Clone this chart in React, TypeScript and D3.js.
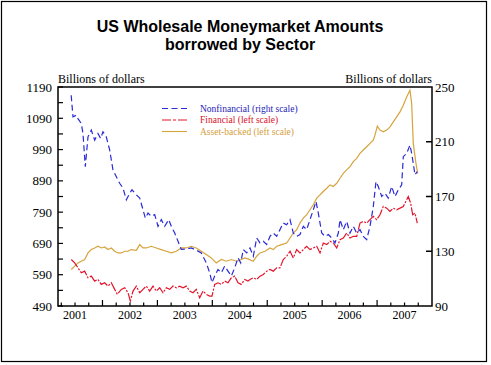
import React from 'react';
import * as d3 from 'd3';

// ---- Data ----
// Nonfinancial (right scale), billions of dollars
const nonfinancialDates = [
  2001.43, 2001.463, 2001.523, 2001.554, 2001.614, 2001.645, 2001.687, 2001.736, 2001.796, 2001.858,
  2001.918, 2001.967, 2002.009, 2002.069, 2002.131, 2002.191, 2002.252, 2002.313, 2002.374, 2002.434,
  2002.496, 2002.537, 2002.616, 2002.678, 2002.738, 2002.78, 2002.829, 2002.889, 2002.951, 2003.011,
  2003.071, 2003.133, 2003.206, 2003.253, 2003.315, 2003.375, 2003.435, 2003.526, 2003.617, 2003.708,
  2003.799, 2003.89, 2003.952, 2003.994, 2004.043, 2004.103, 2004.163, 2004.225, 2004.285, 2004.346,
  2004.407, 2004.468, 2004.517, 2004.564, 2004.626, 2004.686, 2004.746, 2004.808, 2004.868, 2004.928,
  2004.99, 2005.05, 2005.11, 2005.172, 2005.232, 2005.292, 2005.354, 2005.415, 2005.474, 2005.536,
  2005.596, 2005.657, 2005.718, 2005.778, 2005.839, 2005.888, 2005.93, 2005.992, 2006.052, 2006.112,
  2006.174, 2006.234, 2006.294, 2006.325, 2006.385, 2006.447, 2006.507, 2006.567, 2006.629, 2006.689,
  2006.749, 2006.811, 2006.871, 2006.931, 2006.98, 2007.022, 2007.084, 2007.144, 2007.204, 2007.266,
  2007.326, 2007.386, 2007.448, 2007.477, 2007.539, 2007.599, 2007.63, 2007.659, 2007.69, 2007.732,
];
const nonfinancialValues = [
  244.0, 228.2, 229.4, 226.9, 223.3, 216.0, 191.8, 213.6, 218.5, 211.2,
  216.0, 212.4, 217.3, 213.6, 204.0, 189.4, 184.5, 179.7, 176.1, 167.6,
  172.4, 174.9, 171.3, 168.8, 160.3, 154.2, 157.9, 155.5, 156.7, 148.2,
  153.1, 148.2, 153.1, 148.2, 143.3, 137.3, 131.3, 131.7, 132.4, 130.8,
  128.8, 121.5, 114.3, 107.0, 111.9, 116.7, 114.3, 119.1, 115.5, 111.9,
  117.9, 125.2, 121.5, 131.3, 128.8, 132.4, 126.4, 139.7, 136.1, 137.3,
  134.9, 140.9, 143.3, 140.9, 145.8, 150.6, 149.4, 153.1, 143.3, 140.9,
  142.2, 148.2, 145.8, 153.1, 160.3, 166.4, 157.9, 143.3, 140.9, 142.2,
  139.7, 136.1, 143.3, 153.1, 145.8, 151.8, 143.3, 148.2, 143.3, 145.8,
  140.9, 138.5, 148.2, 162.7, 180.9, 177.3, 170.0, 172.4, 168.8, 177.3,
  170.0, 174.9, 178.5, 199.1, 201.5, 207.6, 201.5, 194.2, 185.8, 188.2,
];

// Financial (left scale)
const financialDates = [
  2001.432, 2001.494, 2001.554, 2001.614, 2001.676, 2001.736, 2001.796, 2001.858, 2001.918, 2001.978,
  2002.04, 2002.1, 2002.161, 2002.222, 2002.27, 2002.343, 2002.405, 2002.465, 2002.507, 2002.556,
  2002.616, 2002.678, 2002.738, 2002.798, 2002.86, 2002.92, 2002.98, 2003.042, 2003.102, 2003.162,
  2003.224, 2003.284, 2003.344, 2003.406, 2003.466, 2003.526, 2003.588, 2003.648, 2003.708, 2003.77,
  2003.83, 2003.89, 2003.952, 2003.994, 2004.043, 2004.103, 2004.163, 2004.225, 2004.285, 2004.346,
  2004.407, 2004.468, 2004.528, 2004.59, 2004.65, 2004.686, 2004.746, 2004.808, 2004.868, 2004.928,
  2004.99, 2005.05, 2005.11, 2005.172, 2005.232, 2005.292, 2005.354, 2005.415, 2005.474, 2005.536,
  2005.596, 2005.657, 2005.718, 2005.778, 2005.839, 2005.901, 2005.961, 2006.021, 2006.083, 2006.143,
  2006.203, 2006.265, 2006.325, 2006.385, 2006.447, 2006.507, 2006.567, 2006.629, 2006.689, 2006.749,
  2006.811, 2006.871, 2006.931, 2006.993, 2007.053, 2007.113, 2007.175, 2007.235, 2007.295, 2007.357,
  2007.417, 2007.477, 2007.539, 2007.568, 2007.612, 2007.648, 2007.69, 2007.732,
];
const financialValues = [
  638.6, 627.8, 611.9, 596.0, 601.4, 580.1, 585.5, 569.5, 574.9, 559.0,
  564.1, 553.6, 564.1, 543.1, 527.2, 543.1, 548.2, 532.3, 505.9, 537.7,
  553.6, 532.3, 543.1, 553.6, 537.7, 553.6, 537.7, 548.2, 532.3, 548.2,
  543.1, 553.6, 548.2, 553.6, 548.2, 553.6, 537.7, 532.3, 543.1, 516.4,
  537.7, 527.2, 521.8, 521.8, 559.0, 564.1, 559.0, 569.5, 564.1, 580.1,
  585.5, 564.1, 559.0, 574.9, 569.5, 574.9, 580.1, 574.9, 585.5, 590.9,
  601.4, 606.8, 601.4, 611.9, 611.9, 638.6, 649.1, 665.0, 643.7, 670.4,
  659.6, 670.4, 680.9, 670.4, 675.5, 680.9, 659.6, 691.4, 686.3, 696.8,
  691.4, 675.5, 702.2, 707.3, 723.2, 707.3, 712.7, 712.7, 755.0, 760.5,
  755.0, 765.9, 776.4, 765.9, 781.8, 808.2, 802.8, 792.3, 802.8, 797.7,
  802.8, 808.2, 829.5, 840.0, 818.7, 781.8, 786.9, 755.0,
];

// Asset-backed (left scale)
const assetBackedDates = [
  2001.432, 2001.494, 2001.554, 2001.614, 2001.676, 2001.736, 2001.796, 2001.858, 2001.918, 2001.978,
  2002.04, 2002.1, 2002.161, 2002.222, 2002.283, 2002.343, 2002.405, 2002.465, 2002.525, 2002.616,
  2002.678, 2002.738, 2002.798, 2002.889, 2002.98, 2003.071, 2003.162, 2003.253, 2003.344, 2003.435,
  2003.526, 2003.617, 2003.708, 2003.799, 2003.89, 2003.981, 2004.072, 2004.163, 2004.254, 2004.346,
  2004.437, 2004.528, 2004.59, 2004.65, 2004.746, 2004.808, 2004.868, 2004.959, 2005.05, 2005.11,
  2005.172, 2005.263, 2005.354, 2005.415, 2005.474, 2005.536, 2005.596, 2005.657, 2005.718, 2005.778,
  2005.839, 2005.901, 2005.961, 2006.021, 2006.083, 2006.143, 2006.203, 2006.265, 2006.325, 2006.385,
  2006.447, 2006.507, 2006.567, 2006.629, 2006.689, 2006.749, 2006.811, 2006.871, 2006.931, 2006.962,
  2007.004, 2007.053, 2007.113, 2007.175, 2007.235, 2007.295, 2007.357, 2007.417, 2007.477, 2007.539,
  2007.599, 2007.63, 2007.659, 2007.708, 2007.739,
];
const assetBackedValues = [
  606.8, 617.3, 627.8, 633.2, 638.6, 659.6, 670.4, 675.5, 680.9, 675.5,
  678.7, 670.4, 675.5, 665.0, 659.6, 659.6, 665.0, 665.0, 670.4, 668.2,
  686.3, 675.5, 675.5, 680.9, 675.5, 670.4, 665.0, 659.6, 665.0, 675.5,
  675.5, 680.9, 675.5, 665.0, 654.5, 643.7, 627.8, 638.6, 633.2, 638.6,
  633.2, 638.6, 643.7, 640.5, 633.2, 649.1, 659.6, 665.0, 675.5, 670.4,
  680.9, 686.3, 691.4, 707.3, 723.2, 734.0, 755.0, 771.0, 781.8, 797.7,
  813.6, 834.6, 845.4, 855.9, 866.4, 877.2, 871.8, 882.3, 898.2, 914.1,
  925.0, 935.5, 951.4, 961.9, 977.8, 988.6, 999.1, 1009.6, 1020.4, 1036.3,
  1065.0, 1052.2, 1046.8, 1052.2, 1062.7, 1078.6, 1094.5, 1110.5, 1131.8, 1158.2,
  1179.5, 1136.9, 1009.6, 946.0, 914.1,
];

const yearLabels = [2001, 2002, 2003, 2004, 2005, 2006, 2007];
const leftTickValues = [490, 590, 690, 790, 890, 990, 1090, 1190];
const rightTickValues = [90, 130, 170, 210, 250];

const legendItems = [
  { label: 'Nonfinancial (right scale)', key: 'nonfin' },
  { label: 'Financial (left scale)', key: 'fin' },
  { label: 'Asset-backed (left scale)', key: 'abs' },
];

const COLORS: Record<string, string> = { nonfin: '#2a2ad8', fin: '#e3142c', abs: '#d6a43c' };
const TEXT_COLORS: Record<string, string> = { nonfin: '#1d1db8', fin: '#d8102a', abs: '#d4a040' };
const DASH: Record<string, string> = { nonfin: '6,3.5', fin: '10,1.5,2,1.5', abs: 'none' };
const LEGEND_DASH: Record<string, string> = { nonfin: '6,3.5', fin: '9,2,3,2', abs: 'none' };

const serif = '"Liberation Serif", "DejaVu Serif", serif';
const sans = '"Liberation Sans", Arial, sans-serif';

export default function App() {
  const L = 58, R = 432, T = 87, B = 306;
  const x = d3.scaleLinear().domain([2001.19, 2008.0]).range([L, R]);
  const yL = d3.scaleLinear().domain([490, 1190]).range([B, T]);
  const yR = d3.scaleLinear().domain([90, 250]).range([B, T]);

  const mk = (dates: number[], vals: number[], y: d3.ScaleLinear<number, number>) =>
    d3.line<number>().x((_, i) => x(dates[i])).y((v) => y(v))(vals) || '';

  const nonfinPath = mk(nonfinancialDates, nonfinancialValues, yR);
  const finPath = mk(financialDates, financialValues, yL);
  const absPath = mk(assetBackedDates, assetBackedValues, yL);

  const leftMinor = d3.range(540, 1190, 100);
  const quarterTicks = d3.range(2001.25, 2008, 0.25);

  return (
    <svg width={491} height={365} style={{ position: 'absolute', left: 0, top: 0, background: '#fff' }}>
      <rect x={1.5} y={1.5} width={485} height={360} fill="#fff" stroke="#000" strokeWidth={1.2} />
      <text x={240} y={32} textAnchor="middle" fontFamily={sans} fontWeight="bold" fontSize={16}>
        US Wholesale Moneymarket Amounts
      </text>
      <text x={240} y={50} textAnchor="middle" fontFamily={sans} fontWeight="bold" fontSize={16}>
        borrowed by Sector
      </text>
      <text x={L} y={83} fontFamily={serif} fontSize={12}>Billions of dollars</text>
      <text x={R} y={83} textAnchor="end" fontFamily={serif} fontSize={12}>Billions of dollars</text>

      {/* series */}
      <path d={absPath} fill="none" stroke={COLORS.abs} strokeWidth={1.2} />
      <path d={finPath} fill="none" stroke={COLORS.fin} strokeWidth={1.2} strokeDasharray={DASH.fin} />
      <path d={nonfinPath} fill="none" stroke={COLORS.nonfin} strokeWidth={1.2} strokeDasharray={DASH.nonfin} />

      {/* frame */}
      <rect x={L} y={T} width={R - L} height={B - T} fill="none" stroke="#000" strokeWidth={1.5} />

      {/* left axis */}
      {leftTickValues.map((v) => (
        <g key={'l' + v}>
          <line x1={L} x2={L + 5} y1={yL(v)} y2={yL(v)} stroke="#000" strokeWidth={1.2} />
          <text x={L - 6} y={yL(v) + 4.5} textAnchor="end" fontFamily={serif} fontSize={13}>{v}</text>
        </g>
      ))}
      {leftMinor.map((v) => (
        <line key={'lm' + v} x1={L} x2={L + 5} y1={yL(v)} y2={yL(v)} stroke="#000" strokeWidth={1.2} />
      ))}

      {/* right axis */}
      {rightTickValues.map((v) => (
        <g key={'r' + v}>
          {v !== 90 && v !== 250 && (
            <line x1={R - 6} x2={R} y1={yR(v)} y2={yR(v)} stroke="#000" strokeWidth={1.5} />
          )}
          <text x={R + 3} y={yR(v) + 4.5} fontFamily={serif} fontSize={13}>{v}</text>
        </g>
      ))}

      {/* bottom axis */}
      {quarterTicks.map((t) => {
        const major = Math.abs(t - Math.round(t)) < 1e-6;
        return (
          <line key={'q' + t} x1={x(t)} x2={x(t)} y1={B} y2={B - (major ? 6 : 3.5)} stroke="#000" strokeWidth={1.2} />
        );
      })}
      {yearLabels.map((yr) => (
        <text key={'y' + yr} x={x(yr + 0.5)} y={319} textAnchor="middle" fontFamily={serif} fontSize={12}>
          {yr}
        </text>
      ))}

      {/* legend */}
      {legendItems.map((it, i) => {
        const ly = 108.5 + i * 11.5;
        return (
          <g key={it.key}>
            <line x1={162} x2={187} y1={ly} y2={ly} stroke={COLORS[it.key]} strokeWidth={1.1}
              strokeDasharray={LEGEND_DASH[it.key]} />
            <text x={200} y={ly + 3} fontFamily={serif} fontSize={9.5} fill={TEXT_COLORS[it.key]}>
              {it.label}
            </text>
          </g>
        );
      })}
    </svg>
  );
}
